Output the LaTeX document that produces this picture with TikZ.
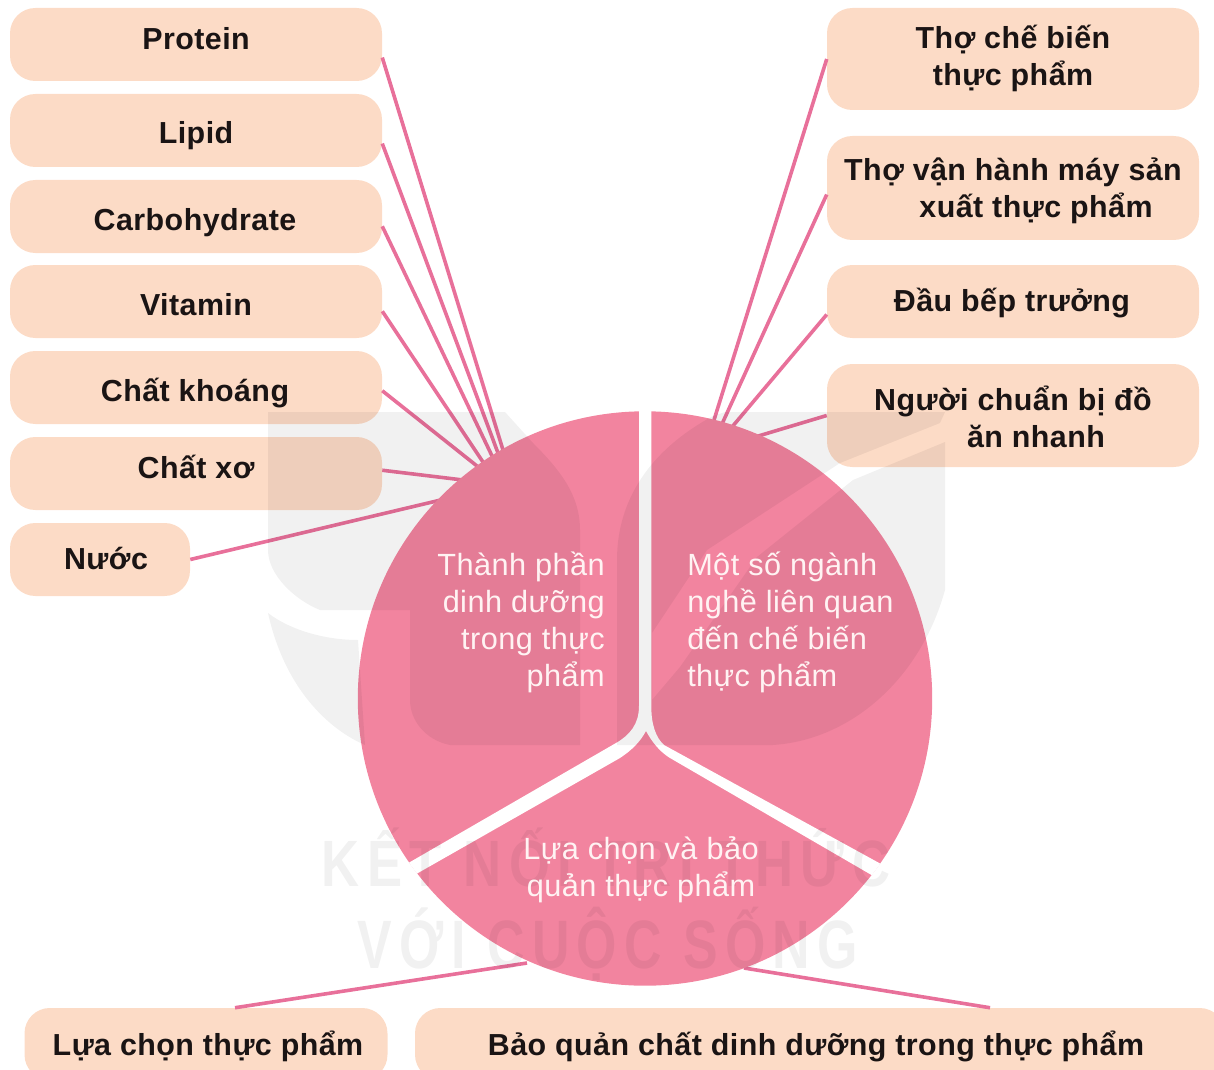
\documentclass[tikz,border=0pt]{standalone}
\usepackage{fontspec}
\usepackage{graphicx}
\setmainfont{Liberation Sans}[LetterSpace=1.5]
\newfontfamily\wmfont[LetterSpace=14]{Liberation Sans}
\usetikzlibrary{calc}
\definecolor{peach}{HTML}{FCDBC6}
\definecolor{pinkfill}{HTML}{F2849F}
\definecolor{pinkline}{HTML}{E8709A}
\definecolor{inktext}{HTML}{1A1414}
\definecolor{sectorwhite}{HTML}{FFF3F3}
\tikzset{
  x=0.75pt,y=-0.75pt,
  boxshape/.style={rectangle,rounded corners=19pt,fill=peach,inner sep=0pt},
  boxtext/.style={anchor=base,inner sep=0pt,font=\fontsize{22.8pt}{27.75pt}\selectfont\bfseries,text=inktext,align=center},
  sectortext/.style={anchor=base,inner sep=0pt,font=\fontsize{23pt}{27.75pt}\selectfont,text=sectorwhite},
  link/.style={draw=pinkline,line width=2.7pt},
  wmshape/.style={fill=black,fill opacity=0.055,draw=none},
  wmtext/.style={inner sep=0pt,text=black,text opacity=0.055}
}
\newcommand{\peachbox}[8]{%
  \node[boxshape,minimum width=#4*0.75pt,minimum height=#5*0.75pt] (#1) at (#2,#3) {};
  \node[boxtext] (#1t) at (#6,#7) {#8};
}
\newcommand{\shiftline}{\hspace*{34.5pt}}
\begin{document}
\begin{tikzpicture}
\useasboundingbox (0,0) rectangle (1214,1070);
\clip (0,0) rectangle (1214,1070);

% anchors on the disc
\coordinate (c1) at (503,450);
\coordinate (c2) at (498,453);
\coordinate (c3) at (493,458);
\coordinate (c4) at (485,465);
\coordinate (c5) at (477,466);
\coordinate (c6) at (463,480);
\coordinate (c7) at (445,499);
\coordinate (d1) at (714,420);
\coordinate (d2) at (722,424);
\coordinate (d3) at (732,427);
\coordinate (d4) at (755,437);
\coordinate (e1) at (527,963);
\coordinate (e2) at (744,968);

% boxes
\peachbox{protein}{196}{44.5}{372}{73}{196}{50}{Protein}
\peachbox{lipid}{196}{130.5}{372}{73}{196}{144}{Lipid}
\peachbox{carb}{196}{216.5}{372}{73}{195}{230}{Carbohydrate}
\peachbox{vitamin}{196}{301.5}{372}{73}{196}{315}{Vitamin}
\peachbox{khoang}{196}{387.5}{372}{73}{195}{401}{Chất khoáng}
\peachbox{xo}{196}{473.5}{372}{73}{196}{478}{Chất xơ}
\peachbox{nuoc}{100}{559.5}{180}{73}{106}{569}{Nước}
\peachbox{tho}{1013}{59}{372}{102}{1013}{86}{Thợ chế biến\\thực phẩm}
\peachbox{van}{1013}{188}{372}{104}{1013}{218}{Thợ vận hành máy sản\\\shiftline xuất thực phẩm}
\peachbox{dau}{1013}{301.5}{372}{73}{1012}{311}{Đầu bếp trưởng}
\peachbox{nguoi}{1013}{415.5}{372}{103}{1013}{447}{Người chuẩn bị đồ\\\shiftline ăn nhanh}
\peachbox{chon}{206}{1044}{363}{72}{208}{1055}{Lựa chọn thực phẩm}
\peachbox{baoquan}{820}{1044}{810}{72}{816}{1055}{Bảo quản chất dinh dưỡng trong thực phẩm}

% connectors
\draw[link] (protein.-4) -- (c1);
\draw[link] (lipid.-4) -- (c2);
\draw[link] (carb.-3) -- (c3);
\draw[link] (vitamin.-3) -- (c4);
\draw[link] (khoang.-1.4) -- (c5);
\draw[link] (xo.1.7) -- (c6);
\draw[link] (nuoc.east) -- (c7);
\draw[link] (tho.west) -- (d1);
\draw[link] (van.182.8) -- (d2);
\draw[link] (dau.184.8) -- (d3);
\draw[link] (nguoi.west) -- (d4);
\draw[link] ($(chon.north)+(29,0)$) -- (e1);
\draw[link] ($(baoquan.north)+(170,0)$) -- (e2);

% disc with white Y-shaped gap
\fill[pinkfill] (645,698.5) circle [radius=215.4pt];
\begin{scope}
\clip (645,698.5) circle [radius=215.6pt];
\fill[white] (639,400) -- (639,706) .. controls (639,724) and (630,735) .. (616,743)
  -- (398,869) -- (406,880) -- (418,873) -- (620,758) .. controls (632,750) and (640,742) .. (646,731)
  .. controls (652,742) and (660,752) .. (670,758) -- (871.5,875) -- (880,881) -- (891,870)
  -- (881,864) -- (664,745) .. controls (656,738) and (651,724) .. (651.4,706) -- (651.4,400) -- cycle;
\end{scope}

% faint watermark
\fill[wmshape] (268,412) -- (505,412) -- (533,443) .. controls (560,470) and (580,495) .. (580,530)
  -- (580,745) -- (450,745) .. controls (425,740) and (410,720) .. (410,700) -- (410,610) -- (320,610)
  .. controls (295,600) and (268,575) .. (268,550) -- cycle;
\fill[wmshape] (268,613) .. controls (290,630) and (325,640) .. (358,640) -- (365,745)
  .. controls (330,730) and (285,690) .. (268,613) -- cycle;
\fill[wmshape] (617,745) -- (617,560) .. controls (617,500) and (650,450) .. (713,416) -- (725,412)
  -- (945,412) -- (940,423) -- (840,463) -- (707,550) -- (652,633) -- (652,700) -- (680,667)
  -- (757,557) -- (853,480) -- (945,442) -- (945,590) .. controls (920,680) and (850,740) .. (773,745) -- cycle;
\node[wmtext] (wmA) at (606,857) {\resizebox{426pt}{44pt}{\wmfont\bfseries KẾT NỐI TRI THỨC}};
\node[wmtext] (wmB) at (608,944) {\resizebox{375pt}{46pt}{\wmfont\bfseries VỚI CUỘC SỐNG}};

% sector texts
\node[sectortext,align=right,anchor=base east] (left) at (605,686) {Thành phần\\dinh dưỡng\\trong thực\\phẩm};
\node[sectortext,align=left,anchor=base west] (right) at (687,686) {Một số ngành\\nghề liên quan\\đến chế biến\\thực phẩm};
\node[sectortext,align=center] (bottom) at (641,896) {Lựa chọn và bảo\\quản thực phẩm};
\end{tikzpicture}
\end{document}
